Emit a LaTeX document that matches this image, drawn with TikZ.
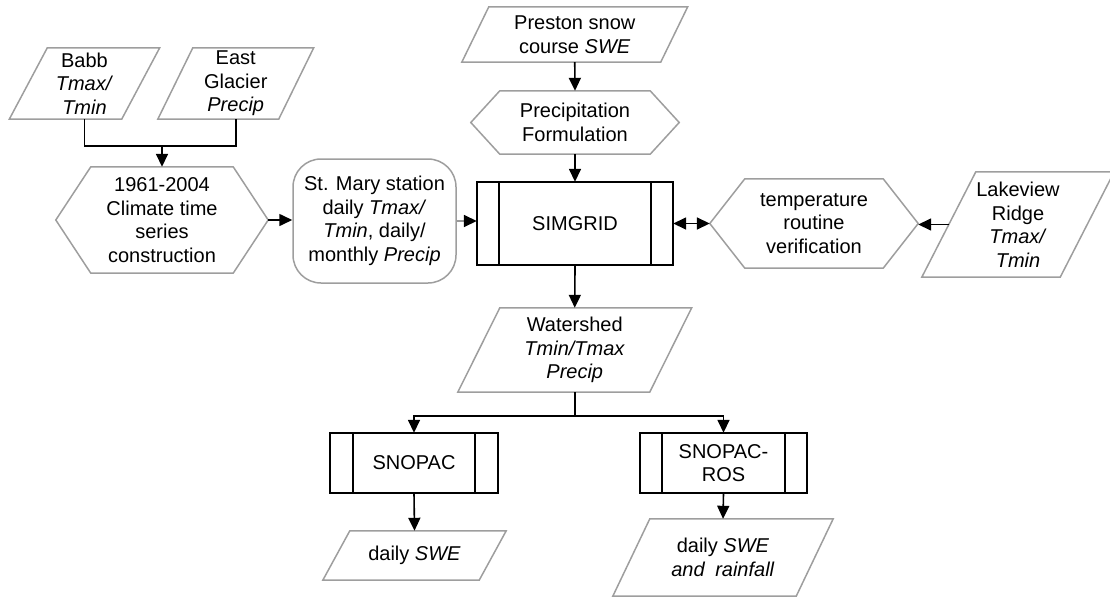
\documentclass[tikz,border=0pt]{standalone}
\usepackage{fontspec}
\setmainfont{Liberation Sans}
\usetikzlibrary{arrows.meta,calc}
\tikzset{
 base/.style={draw=none, inner sep=0pt, align=center, font=\fontsize{20}{23.5}\selectfont},
 shapeline/.style={draw=black!38, line width=1.5pt},
 procline/.style={draw=black, line width=1.6pt},
 conn/.style={draw=black, line width=1.6pt},
 tip/.style={-{Triangle[length=13pt,width=12pt]}},
 arr/.style={conn, tip},
}
\newcommand{\parashape}[2]{\draw[shapeline] ([xshift=#2]#1.north west) -- ([xshift=#2]#1.north east) -- ([xshift=-#2]#1.south east) -- ([xshift=-#2]#1.south west) -- cycle;}
\newcommand{\hexshape}[2]{\draw[shapeline] (#1.west) -- ([xshift=#2]#1.north west) -- ([xshift=-#2]#1.north east) -- (#1.east) -- ([xshift=-#2]#1.south east) -- ([xshift=#2]#1.south west) -- cycle;}
\newcommand{\procshape}[2]{\draw[procline] (#1.north west) rectangle (#1.south east);
 \draw[procline] ([xshift=#2]#1.north west) -- ([xshift=#2]#1.south west);
 \draw[procline] ([xshift=-#2]#1.north east) -- ([xshift=-#2]#1.south east);}
\begin{document}
\begin{tikzpicture}[x=1pt,y=-1pt]
\useasboundingbox (0,0) rectangle (1110,597);
% parallelograms (data)
\node[base, minimum width=112pt, minimum height=71pt] (babb) at (84.5,83.5) {Babb\\\textit{Tmax/}\\\textit{Tmin}};
\parashape{babb}{19pt}
\node[base, minimum width=120.5pt, minimum height=71pt] (eastg) at (235.75,83.5) {East\\Glacier\\\textit{Precip}};
\parashape{eastg}{17.5pt}
\node[base, minimum width=198.5pt, minimum height=55pt] (preston) at (574.75,34.5) {Preston snow\\course \textit{SWE}};
\parashape{preston}{13.5pt}
\node[base, minimum width=138pt, minimum height=105pt] (lakeview) at (1018,224.5) {Lakeview\\Ridge\\\textit{Tmax/}\\\textit{Tmin}};
\parashape{lakeview}{27pt}
\node[base, minimum width=191.5pt, minimum height=84pt] (watershed) at (574.75,350) {Watershed\\\textit{Tmin/Tmax}\\\textit{Precip}};
\parashape{watershed}{21pt}
\node[base, minimum width=156pt, minimum height=49pt] (dailyswe) at (414.5,555.5) {daily \textit{SWE}};
\parashape{dailyswe}{13.5pt}
\node[base, minimum width=183pt, minimum height=77pt] (rainfall) at (723,557.5) {daily \textit{SWE}\\\textit{and\hspace{0.25em} rainfall}};
\parashape{rainfall}{18.5pt}
% hexagons (preparation)
\node[base, minimum width=212pt, minimum height=106pt] (climate) at (162,220) {1961-2004\\Climate time\\series\\construction};
\hexshape{climate}{35pt}
\node[base, minimum width=208pt, minimum height=63pt] (precip) at (575,122.5) {Precipitation\\Formulation};
\hexshape{precip}{29pt}
\node[base, minimum width=208pt, minimum height=89pt] (tempver) at (814,223.5) {temperature\\routine\\verification};
\hexshape{tempver}{35pt}
% rounded box
\node[base, shapeline, rounded corners=28pt, minimum width=163pt, minimum height=124pt] (stmary) at (374.5,221) {St. Mary station\\daily \textit{Tmax/}\\\textit{Tmin}, daily/\\monthly \textit{Precip}};
% processes
\node[base, minimum width=196pt, minimum height=83pt] (simgrid) at (575,223.5) {SIMGRID};
\procshape{simgrid}{22pt}
\node[base, minimum width=168pt, minimum height=60pt] (snopac) at (414,463) {SNOPAC};
\procshape{snopac}{23pt}
\node[base, minimum width=167pt, minimum height=60pt] (snopacros) at (723.5,463) {SNOPAC-\\ROS};
\procshape{snopacros}{22pt}
% connectors
\coordinate (j1) at (162,146);
\coordinate (j2) at (574.75,416);
\draw[conn] (babb.south) |- (j1);
\draw[conn] (eastg.south) |- (j1);
\draw[arr] (j1) -- (climate.north);
\draw[arr] (climate.east) -- (climate.east -| stmary.west);
\draw[conn, draw=black!40, -{Triangle[length=13pt,width=12pt,color=black]}] (stmary.east) -- (stmary.east -| simgrid.west);
\draw[arr] (preston.south) -- (precip.north);
\draw[arr] (precip.south) -- (simgrid.north);
\draw[conn, {Triangle[length=13pt,width=12pt]}-{Triangle[length=13pt,width=12pt]}] (simgrid.east) -- (tempver.west);
\draw[arr] (lakeview.west) -- (lakeview.west -| tempver.east);
\draw[arr] (simgrid.south) -- (watershed.north);
\draw[conn] (watershed.south) -- (j2);
\draw[arr] (j2) -| (snopac.north);
\draw[arr] (j2) -| (snopacros.north);
\draw[arr] (snopac.south) -- (dailyswe.north);
\draw[arr] (snopacros.south) -- (rainfall.north);
\end{tikzpicture}
\end{document}
